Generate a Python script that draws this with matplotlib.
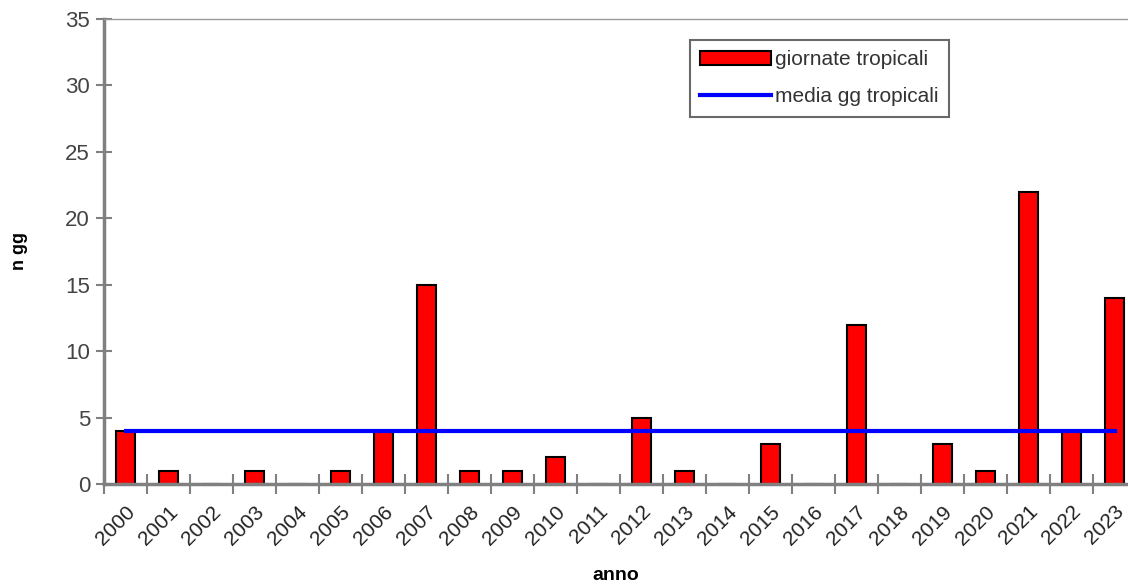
import matplotlib
matplotlib.use("Agg")
import matplotlib.pyplot as plt
import numpy as np

# data
anni = [str(a) for a in range(2000, 2024)]
giornate = [4, 1, 0, 1, 0, 1, 4, 15, 1, 1, 2, 0, 5, 1, 0, 3, 0, 12, 0, 3, 1, 22, 4, 14]
media = np.mean(giornate)

plt.rcParams['font.family'] = ['Liberation Sans Narrow', 'Liberation Sans', 'DejaVu Sans']

fig = plt.figure(figsize=(11.28, 5.87), dpi=100)
ax = fig.add_axes([104/1128, 103/587, 1032/1128, 465/587])

x = np.arange(len(anni))
barre = ax.bar(x, giornate, width=0.42, color='#ff0000', edgecolor='black', linewidth=1.5,
               label='giornate tropicali', zorder=2)
linea, = ax.plot([x[0], x[-1]], [media, media], color='#0000ff', linewidth=3,
                 label='media gg tropicali', zorder=3)

ax.set_xlim(-0.5, len(anni) - 0.5)
ax.set_ylim(0, 35)
ax.set_yticks(range(0, 36, 5))
ax.set_xticks(x)
ax.set_xticklabels(anni, rotation=45, ha='right', rotation_mode='anchor')
ax.set_xticks(np.arange(-0.5, len(anni), 1), minor=True)
ax.tick_params(axis='x', which='major', length=0, pad=13, labelsize=15, labelcolor='#222222')
ax.tick_params(axis='x', which='minor', direction='inout', length=14, width=1.5, color='#808080')
ax.tick_params(axis='y', direction='inout', length=12, width=1.5, color='#808080',
               labelsize=16, labelcolor='#444444', pad=4)

for s in ['left', 'bottom']:
    ax.spines[s].set_color('#808080')
    ax.spines[s].set_linewidth(2.5)
ax.spines['right'].set_visible(False)
ax.spines['top'].set_color('#999999')
ax.spines['top'].set_linewidth(1)

ax.set_ylabel('n gg', fontsize=13, fontweight='bold', va='center')
ax.yaxis.set_label_coords(-(104 - 20) / 1032, 0.5)
ax.set_xlabel('anno', fontsize=14, fontweight='bold', va='center')
ax.xaxis.set_label_coords(0.5 - 4 / 1032, -(575 - 484) / 465)

leg = ax.legend([barre, linea], ['giornate tropicali', 'media gg tropicali'],
                loc='upper left', bbox_to_anchor=(586/1032, 1 - 21/465), fontsize=15,
                frameon=True, fancybox=False, handlelength=3.4, handletextpad=0.2,
                borderpad=0.5, labelspacing=0.85, borderaxespad=0)
leg.get_frame().set_edgecolor('#444444')
leg.get_frame().set_linewidth(1.5)
for t in leg.get_texts():
    t.set_color('#333333')

fig.savefig('out.png', dpi=100)
